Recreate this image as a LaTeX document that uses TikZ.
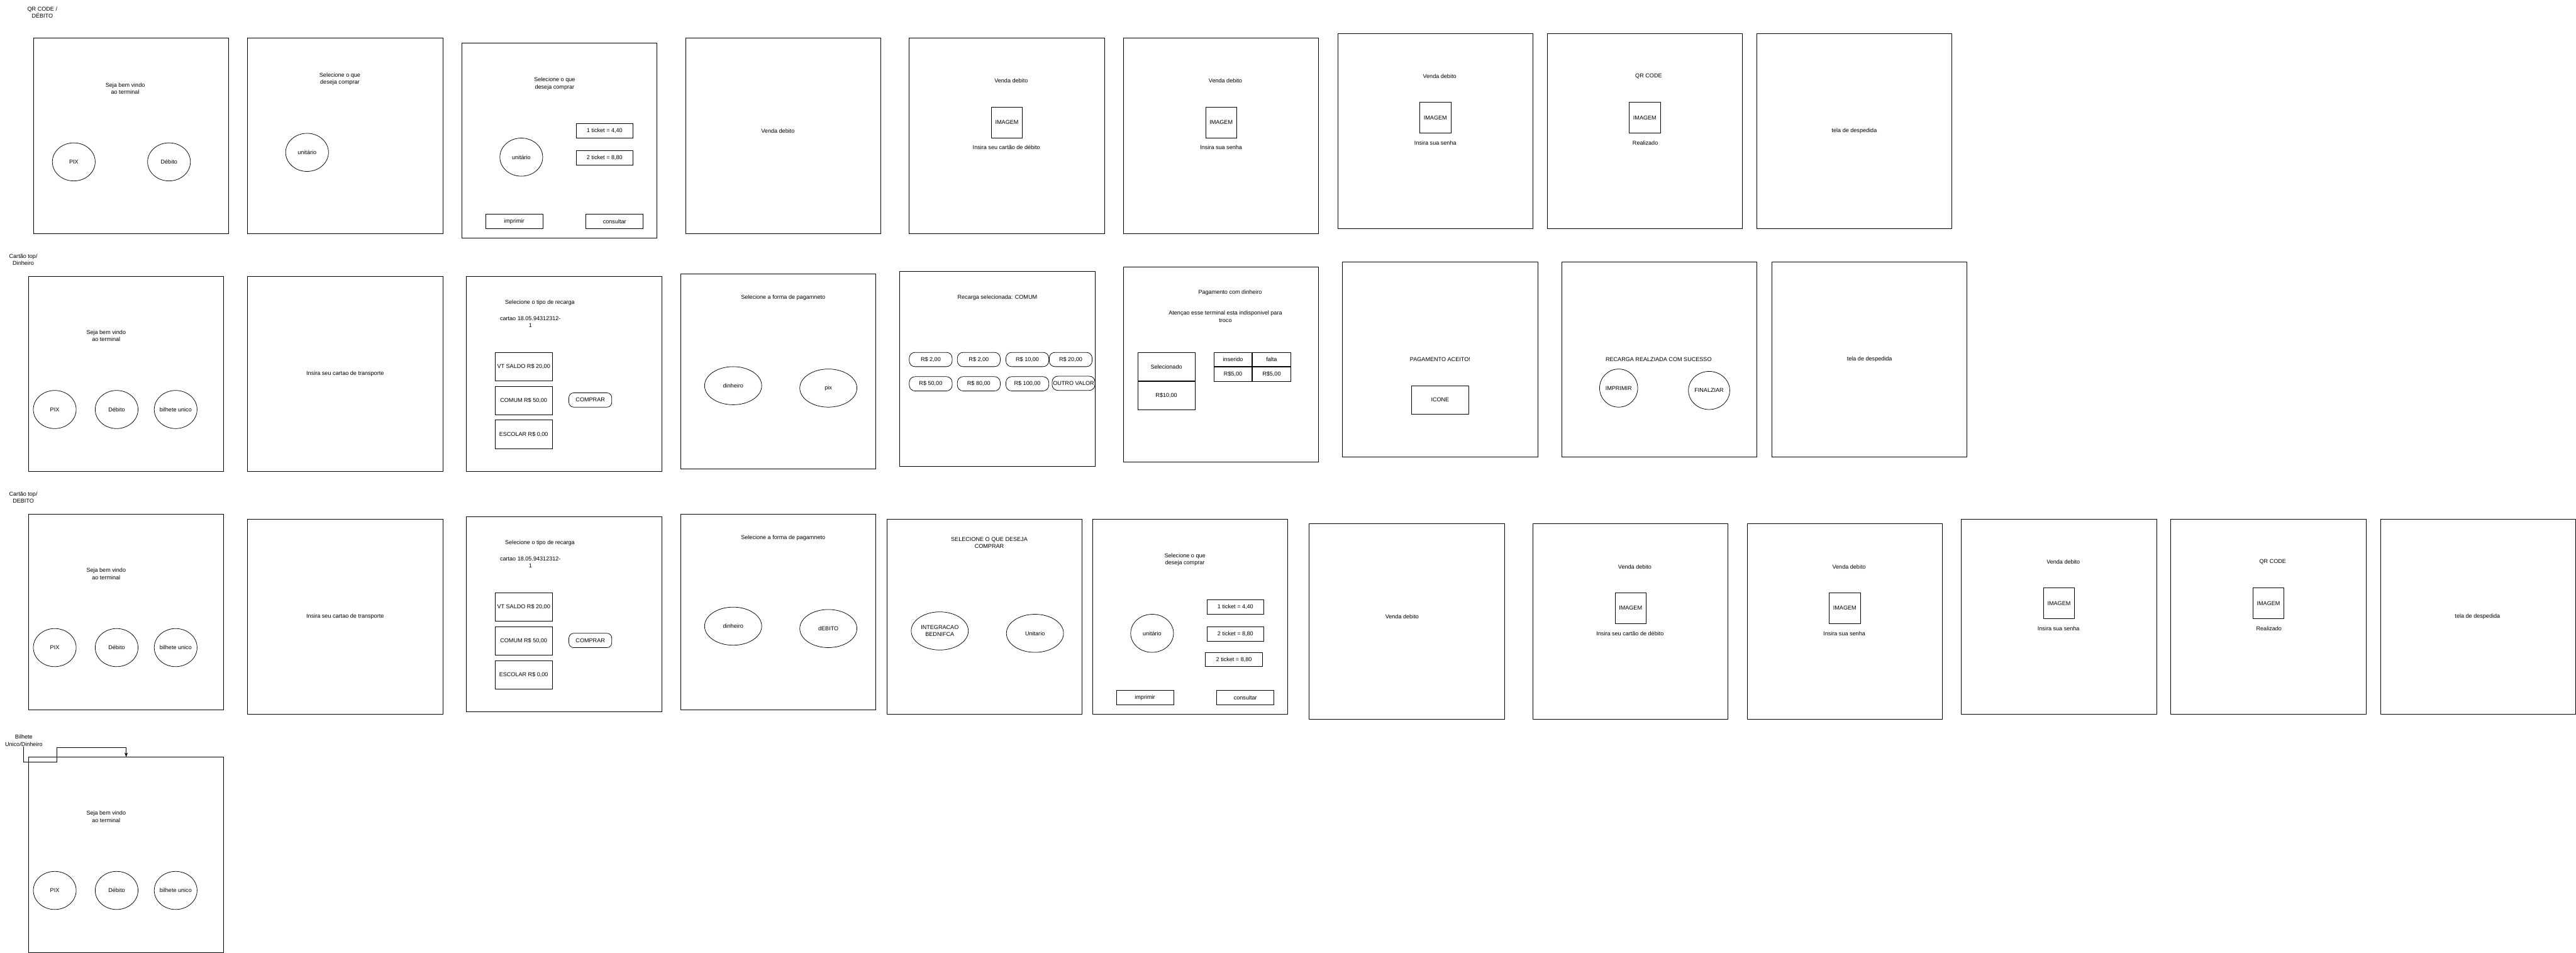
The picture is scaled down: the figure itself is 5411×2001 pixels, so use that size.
\documentclass[tikz,border=0pt]{standalone}
\usepackage{fontspec}
\setmainfont{Liberation Sans}
\usetikzlibrary{shapes.geometric, arrows.meta, positioning}

\begin{document}
\begin{tikzpicture}[
    x=1pt, y=-1pt,
    line width=1pt,
    font=\fontsize{12}{15}\selectfont,
    screen/.style={rectangle, draw=black, minimum width=410pt, minimum height=410pt, inner sep=0pt},
    caption/.style={align=center, inner sep=0pt},
    btn/.style={ellipse, draw=black, minimum width=90pt, minimum height=80pt, inner sep=0pt, align=center},
    widebtn/.style={btn, minimum width=120pt},
    smallbtn/.style={btn, minimum width=80pt},
    box/.style={rectangle, draw=black, minimum width=120pt, minimum height=30pt, inner sep=0pt},
    card/.style={box, minimum height=60pt},
    imgbox/.style={rectangle, draw=black, minimum width=65pt, minimum height=65pt, inner sep=0pt},
    pill/.style={rectangle, rounded corners=12pt, draw=black, minimum width=90pt, minimum height=30pt, inner sep=0pt},
    cell/.style={rectangle, draw=black, minimum width=80pt, minimum height=30pt, inner sep=0pt},
    arrow/.style={->, >={Stealth[length=9pt, width=7pt]}}
]
    \useasboundingbox (0,0) rectangle (5411,2001);

    \node (lblA) [caption] at (89,26) {QR CODE /\\DÉBITO};
    \node (a1) [screen] at (275,285) {};
    \node (a1txt) [caption] at (263,186) {Seja bem vindo\\ao terminal};
    \node (a1pix) [btn] at (155,340) {PIX};
    \node (a1deb) [btn] at (355,340) {Débito};
    \node (a2) [screen] at (725,285) {};
    \node (a2txt) [caption] at (714,166) {Selecione o que\\deseja comprar};
    \node (a2uni) [btn] at (645,320) {unitário};
    \node (a3) [screen] at (1175,295) {};
    \node (a3txt) [caption] at (1165,176) {Selecione o que\\deseja comprar};
    \node (a3uni) [btn] at (1095,330) {unitário};
    \node (a3t1) [box] at (1270,275) {1 ticket = 4,40};
    \node (a3t2) [box, below=25pt of a3t1] {2 ticket = 8,80};
    \node (a3imp) [box] at (1080,465) {imprimir};
    \node (a3con) [box, right=90pt of a3imp] {consultar};
    \node (a4) [screen] at (1645,285) {};
    \node (a4txt) [caption] at (1634,275) {Venda debito};
    \node (a5) [screen] at (2115,285) {};
    \node (a5txt) [caption] at (2124,170) {Venda debito};
    \node (a5img) [imgbox] at (2115,257) {IMAGEM};
    \node (a5msg) [caption] at (2114,310) {Insira seu cartão de débito};
    \node (a6) [screen] at (2565,285) {};
    \node (a6txt) [caption] at (2574,170) {Venda debito};
    \node (a6img) [imgbox] at (2565,257) {IMAGEM};
    \node (a6msg) [caption] at (2565,310) {Insira sua senha};
    \node (a7) [screen] at (3015,275) {};
    \node (a7txt) [caption] at (3024,160) {Venda debito};
    \node (a7img) [imgbox] at (3015,247) {IMAGEM};
    \node (a7msg) [caption] at (3015,300) {Insira sua senha};
    \node (a8) [screen] at (3455,275) {};
    \node (a8txt) [caption] at (3463,160) {QR CODE};
    \node (a8img) [imgbox] at (3455,247) {IMAGEM};
    \node (a8msg) [caption] at (3456,300) {Realizado};
    \node (a9) [screen] at (3895,275) {};
    \node (a9txt) [caption] at (3895,275) {tela de despedida};

    \node (lblB) [caption] at (49,545) {Cartão top/\\Dinheiro};
    \node (b1) [screen] at (265,785) {};
    \node (b1txt) [caption] at (223,705) {Seja bem vindo\\ao terminal};
    \node (b1pix) [btn] at (115,860) {PIX};
    \node (b1deb) [btn] at (245,860) {Débito};
    \node (b1bil) [btn, label=center:bilhete unico] at (369,860) {};
    \node (b2) [screen] at (725,785) {};
    \node (b2txt) [caption] at (725,785) {Insira seu cartao de transporte};
    \node (b3) [screen] at (1185,785) {};
    \node (b3txt) [caption] at (1134,635) {Selecione o tipo de recarga};
    \node (b3num) [caption] at (1114,676) {cartao 18.05.94312312-\\1};
    \node (b3vt) [card] at (1100,770) {VT SALDO R\$ 20,00};
    \node (b3com) [card, below=10pt of b3vt] {COMUM R\$ 50,00};
    \node (b3esc) [card, below=10pt of b3com] {ESCOLAR R\$ 0,00};
    \node (b3buy) [box, rounded corners=10pt, minimum width=90pt] at (1240,840) {COMPRAR};
    \node (b4) [screen] at (1635,780) {};
    \node (b4txt) [caption] at (1645,625) {Selecione a forma de pagamneto};
    \node (b4din) [widebtn] at (1540,810) {dinheiro};
    \node (b4pix) [widebtn] at (1740,815) {pix};
    \node (b5) [screen] at (2095,775) {};
    \node (b5txt) [caption] at (2095,625) {Recarga selecionada: COMUM};
    \node (b5p1) [pill] at (1955,755) {R\$ 2,00};
    \node (b5p2) [pill, right=10pt of b5p1] {R\$ 2,00};
    \node (b5p3) [pill, right=11pt of b5p2] {R\$ 10,00};
    \node (b5p4) [pill, right=0pt of b5p3] {R\$ 20,00};
    \node (b5p5) [pill, below=20pt of b5p1] {R\$ 50,00};
    \node (b5p6) [pill, below=20pt of b5p2] {R\$ 80,00};
    \node (b5p7) [pill, below=20pt of b5p3] {R\$ 100,00};
    \node (b5p8) [pill] at (2255,805) {OUTRO VALOR};
    \node (b6) [screen] at (2565,765) {};
    \node (b6txt) [caption] at (2584,615) {Pagamento com dinheiro};
    \node (b6msg) [caption] at (2574,665) {Atençao esse terminal esta indisponivel para\\troco};
    \node (b6sel) [card] at (2450,770) {Selecionado};
    \node (b6val) [card, below=0pt of b6sel] {R\$10,00};
    \node (b6ins) [cell] at (2590,755) {inserido};
    \node (b6fal) [cell, right=0pt of b6ins] {falta};
    \node (b6r1) [cell, below=0pt of b6ins] {R\$5,00};
    \node (b6r2) [cell, below=0pt of b6fal] {R\$5,00};
    \node (b7) [screen] at (3025,755) {};
    \node (b7txt) [caption] at (3025,755) {PAGAMENTO ACEITO!};
    \node (b7ico) [card] at (3025,840) {ICONE};
    \node (b8) [screen] at (3485,755) {};
    \node (b8txt) [caption] at (3484,755) {RECARGA REALZIADA COM SUCESSO};
    \node (b8imp) [smallbtn] at (3400,815) {IMPRIMIR};
    \node (b8fin) [smallbtn] at (3590,820) {FINALZIAR};
    \node (b9) [screen] at (3927,755) {};
    \node (b9txt) [caption] at (3927,755) {tela de despedida};

    \node (lblC) [caption] at (49,1045) {Cartão top/\\DEBITO};
    \node (c1) [screen] at (265,1285) {};
    \node (c1txt) [caption] at (223,1205) {Seja bem vindo\\ao terminal};
    \node (c1pix) [btn] at (115,1360) {PIX};
    \node (c1deb) [btn] at (245,1360) {Débito};
    \node (c1bil) [btn, label=center:bilhete unico] at (369,1360) {};
    \node (c2) [screen] at (725,1295) {};
    \node (c2txt) [caption] at (725,1295) {Insira seu cartao de transporte};
    \node (c3) [screen] at (1185,1290) {};
    \node (c3txt) [caption] at (1134,1140) {Selecione o tipo de recarga};
    \node (c3num) [caption] at (1114,1181) {cartao 18.05.94312312-\\1};
    \node (c3vt) [card] at (1100,1275) {VT SALDO R\$ 20,00};
    \node (c3com) [card, below=10pt of c3vt] {COMUM R\$ 50,00};
    \node (c3esc) [card, below=10pt of c3com] {ESCOLAR R\$ 0,00};
    \node (c3buy) [box, rounded corners=10pt, minimum width=90pt] at (1240,1345) {COMPRAR};
    \node (c4) [screen] at (1635,1285) {};
    \node (c4txt) [caption] at (1645,1130) {Selecione a forma de pagamneto};
    \node (c4din) [widebtn] at (1540,1315) {dinheiro};
    \node (c4deb) [widebtn] at (1740,1320) {dEBITO};
    \node (c5) [screen] at (2068,1295) {};
    \node (c5txt) [caption] at (2078,1140) {SELECIONE O QUE DESEJA\\COMPRAR};
    \node (c5int) [widebtn] at (1974,1325) {INTEGRACAO\\BEDNIFCA};
    \node (c5uni) [widebtn] at (2174,1330) {Unitario};
    \node (c6) [screen] at (2500,1295) {};
    \node (c6txt) [caption] at (2489,1175) {Selecione o que\\deseja comprar};
    \node (c6uni) [btn] at (2420,1330) {unitário};
    \node (c6t1) [box] at (2595,1275) {1 ticket = 4,40};
    \node (c6t2) [box, below=25pt of c6t1] {2 ticket = 8,80};
    \node (c6t3) [box] at (2592,1385) {2 ticket = 8,80};
    \node (c6imp) [box] at (2405,1465) {imprimir};
    \node (c6con) [box, right=90pt of c6imp] {consultar};
    \node (c7) [screen] at (2955,1305) {};
    \node (c7txt) [caption] at (2945,1295) {Venda debito};
    \node (c8) [screen] at (3425,1305) {};
    \node (c8txt) [caption] at (3434,1190) {Venda debito};
    \node (c8img) [imgbox] at (3425,1277) {IMAGEM};
    \node (c8msg) [caption] at (3424,1330) {Insira seu cartão de débito};
    \node (c9) [screen] at (3875,1305) {};
    \node (c9txt) [caption] at (3884,1190) {Venda debito};
    \node (c9img) [imgbox] at (3875,1277) {IMAGEM};
    \node (c9msg) [caption] at (3874,1330) {Insira sua senha};
    \node (c10) [screen] at (4325,1295) {};
    \node (c10txt) [caption] at (4334,1180) {Venda debito};
    \node (c10img) [imgbox] at (4325,1267) {IMAGEM};
    \node (c10msg) [caption] at (4324,1320) {Insira sua senha};
    \node (c11) [screen] at (4765,1295) {};
    \node (c11txt) [caption] at (4774,1180) {QR CODE};
    \node (c11img) [imgbox] at (4765,1267) {IMAGEM};
    \node (c11msg) [caption] at (4766,1320) {Realizado};
    \node (c12) [screen] at (5205,1295) {};
    \node (c12txt) [caption] at (5204,1295) {tela de despedida};

    \node (lblD) [caption] at (50,1555) {Bilhete\\Unico/Dinheiro};
    \node (d1) [screen] at (265,1795) {};
    \node (d1txt) [caption] at (223,1715) {Seja bem vindo\\ao terminal};
    \node (d1pix) [btn] at (115,1870) {PIX};
    \node (d1deb) [btn] at (245,1870) {Débito};
    \node (d1bil) [btn, label=center:bilhete unico] at (369,1870) {};

    \draw [arrow] (lblD.south) -- (50,1600) -- (120,1600) -- (120,1570) -- (265,1570) -- (d1.north);
\end{tikzpicture}
\end{document}
